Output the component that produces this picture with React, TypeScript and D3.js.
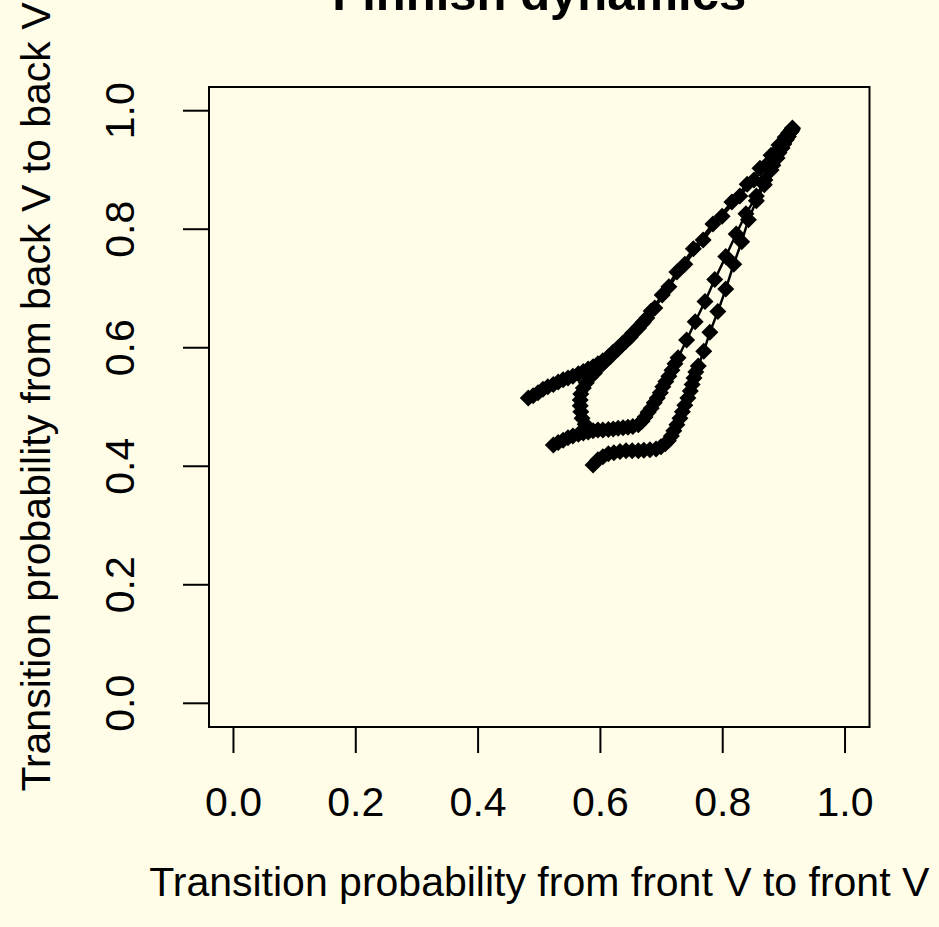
import { useEffect } from "react"
import * as d3 from "d3"

const W = 939
const H = 927
const BG = "#FFFDE8"
const FONT = "'Liberation Sans', Arial, Helvetica, sans-serif"

// four runs (front-V prob, back-V prob)
// run 1: upper branch, starts far left
const run1x = [0.482, 0.490, 0.498, 0.506, 0.514, 0.523, 0.531, 0.539, 0.547, 0.555, 0.564, 0.572, 0.580, 0.588, 0.596, 0.604, 0.613, 0.621, 0.629, 0.637, 0.645, 0.653, 0.662, 0.670, 0.683, 0.701, 0.725, 0.752, 0.784, 0.815, 0.840, 0.861, 0.879, 0.892, 0.902, 0.908, 0.912]
const run1y = [0.515, 0.519, 0.524, 0.530, 0.534, 0.538, 0.542, 0.546, 0.549, 0.552, 0.556, 0.560, 0.564, 0.568, 0.573, 0.578, 0.585, 0.593, 0.600, 0.608, 0.616, 0.625, 0.634, 0.643, 0.662, 0.689, 0.728, 0.767, 0.809, 0.846, 0.876, 0.903, 0.925, 0.942, 0.955, 0.963, 0.967]

// run 2: the hook that joins the upper branch
const run2x = [0.575, 0.570, 0.568, 0.567, 0.567, 0.568, 0.572, 0.577, 0.583, 0.590, 0.596, 0.603, 0.609, 0.616, 0.622, 0.629, 0.635, 0.642, 0.649, 0.655, 0.662, 0.668, 0.676, 0.689, 0.712, 0.738, 0.768, 0.799, 0.828, 0.851, 0.871, 0.887, 0.899, 0.907, 0.912, 0.914]
const run2y = [0.471, 0.481, 0.492, 0.502, 0.512, 0.522, 0.532, 0.541, 0.550, 0.557, 0.565, 0.572, 0.578, 0.585, 0.592, 0.598, 0.605, 0.611, 0.618, 0.626, 0.633, 0.641, 0.650, 0.667, 0.703, 0.741, 0.782, 0.822, 0.856, 0.883, 0.908, 0.930, 0.946, 0.957, 0.965, 0.969]

// run 3: middle
const run3x = [0.523, 0.531, 0.539, 0.547, 0.555, 0.564, 0.572, 0.580, 0.588, 0.596, 0.604, 0.613, 0.621, 0.629, 0.637, 0.645, 0.653, 0.662, 0.668, 0.673, 0.678, 0.683, 0.688, 0.693, 0.698, 0.702, 0.707, 0.712, 0.717, 0.722, 0.727, 0.741, 0.755, 0.771, 0.787, 0.805, 0.822, 0.838, 0.855, 0.869, 0.882, 0.892, 0.900, 0.907, 0.911, 0.913]
const run3y = [0.436, 0.440, 0.444, 0.448, 0.451, 0.454, 0.456, 0.458, 0.460, 0.461, 0.461, 0.462, 0.463, 0.464, 0.465, 0.466, 0.467, 0.470, 0.476, 0.483, 0.491, 0.498, 0.507, 0.515, 0.524, 0.534, 0.543, 0.552, 0.562, 0.573, 0.583, 0.613, 0.644, 0.678, 0.715, 0.754, 0.792, 0.826, 0.856, 0.883, 0.908, 0.929, 0.944, 0.956, 0.964, 0.968]

// run 4: lowest / rightmost
const run4x = [0.588, 0.596, 0.604, 0.613, 0.622, 0.632, 0.642, 0.652, 0.662, 0.671, 0.681, 0.691, 0.699, 0.706, 0.711, 0.716, 0.720, 0.725, 0.730, 0.734, 0.738, 0.743, 0.747, 0.750, 0.753, 0.756, 0.760, 0.769, 0.779, 0.792, 0.805, 0.818, 0.831, 0.842, 0.855, 0.868, 0.879, 0.889, 0.897, 0.904, 0.908, 0.912, 0.914]
const run4y = [0.402, 0.411, 0.416, 0.421, 0.423, 0.425, 0.426, 0.426, 0.426, 0.427, 0.428, 0.429, 0.433, 0.438, 0.443, 0.451, 0.460, 0.470, 0.481, 0.492, 0.503, 0.515, 0.527, 0.538, 0.549, 0.559, 0.569, 0.594, 0.626, 0.661, 0.699, 0.741, 0.779, 0.816, 0.848, 0.875, 0.900, 0.920, 0.937, 0.951, 0.961, 0.967, 0.971]

const ticks = [0, 0.2, 0.4, 0.6, 0.8, 1.0]
const title = "Finnish dynamics"
const xLabel = "Transition probability from front V to front V"
const yLabel = "Transition probability from back V to back V"

const App = () => {
	useEffect(() => {
		document.body.style.margin = "0"
	}, [])

	// plot box
	const left = 209
	const right = 869.5
	const top = 87
	const bottom = 727

	// R style 4% padding around 0..1
	const x = d3.scaleLinear().domain([-0.04, 1.04]).range([left, right])
	const y = d3.scaleLinear().domain([-0.04, 1.04]).range([bottom, top])

	const runs = [
		[run1x, run1y],
		[run2x, run2y],
		[run3x, run3y],
		[run4x, run4y],
	].map(([xs, ys]) => xs.map((v, i) => [v, ys[i]] as [number, number]))

	const line = d3
		.line<[number, number]>()
		.x((d) => x(d[0]))
		.y((d) => y(d[1]))

	const r = 8.5
	const diamond = `M0,${-r}L${r},0L0,${r}L${-r},0Z`
	const tickLen = 26
	const fs = 41

	return (
		<svg width={W} height={H} style={{ display: "block", background: BG }} fontFamily={FONT}>
			<rect width={W} height={H} fill={BG} />

			{/* trajectories */}
			{runs.map((pts, k) => (
				<g key={k}>
					<path d={line(pts) || ""} fill="none" stroke="black" strokeWidth={2.5} />
					{pts.map((d, i) => (
						<path key={i} d={diamond} transform={`translate(${x(d[0])},${y(d[1])})`} fill="black" />
					))}
				</g>
			))}

			{/* box */}
			<rect x={left} y={top} width={right - left} height={bottom - top} fill="none" stroke="black" strokeWidth={2} />

			{/* x axis */}
			<line x1={x(0)} x2={x(1)} y1={bottom} y2={bottom} stroke="black" strokeWidth={2} />
			{ticks.map((t) => (
				<g key={"x" + t}>
					<line x1={x(t)} x2={x(t)} y1={bottom} y2={bottom + tickLen} stroke="black" strokeWidth={2} />
					<text x={x(t)} y={816} fontSize={fs} textAnchor="middle">
						{t.toFixed(1)}
					</text>
				</g>
			))}

			{/* y axis */}
			<line x1={left} x2={left} y1={y(0)} y2={y(1)} stroke="black" strokeWidth={2} />
			{ticks.map((t) => (
				<g key={"y" + t}>
					<line x1={left - tickLen} x2={left} y1={y(t)} y2={y(t)} stroke="black" strokeWidth={2} />
					<text transform={`translate(134,${y(t)}) rotate(-90)`} fontSize={fs} textAnchor="middle">
						{t.toFixed(1)}
					</text>
				</g>
			))}

			{/* titles */}
			<text x={(left + right) / 2} y={10} fontSize={49} fontWeight="bold" textAnchor="middle">
				{title}
			</text>
			<text x={(left + right) / 2} y={896} fontSize={fs} textAnchor="middle">
				{xLabel}
			</text>
			<text transform={`translate(50,397) rotate(-90)`} fontSize={fs} textAnchor="middle">
				{yLabel}
			</text>
		</svg>
	)
}

export default App
